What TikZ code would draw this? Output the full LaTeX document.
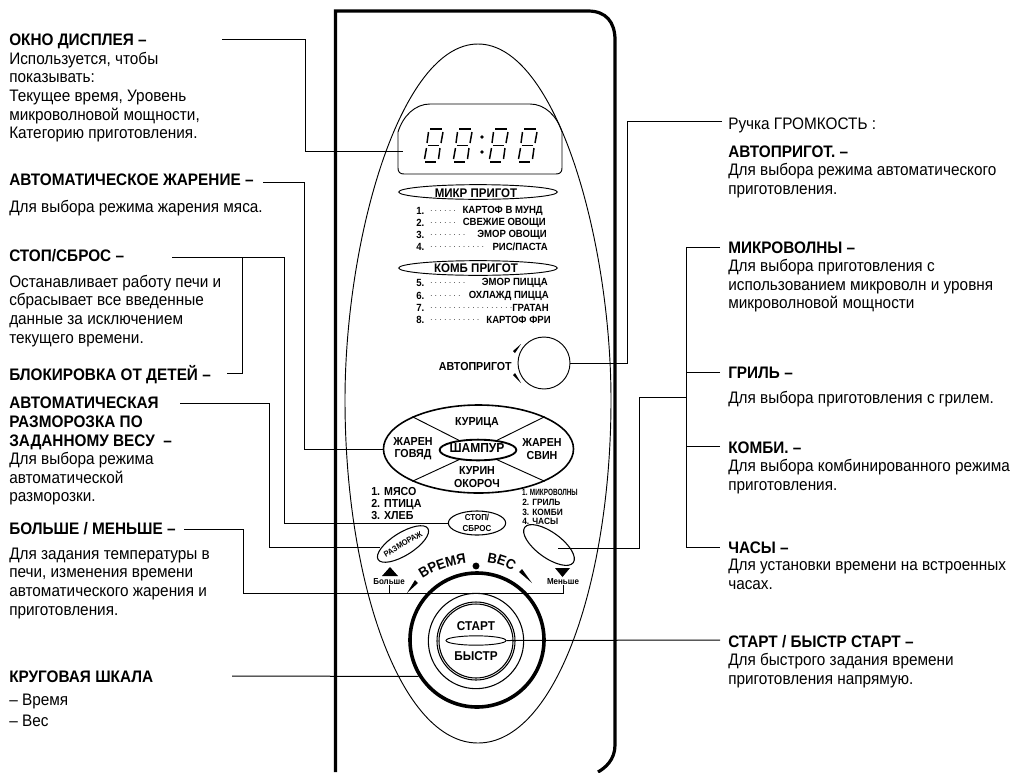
\documentclass[tikz,border=0pt]{standalone}
\usepackage{fontspec}
\setmainfont[FakeStretch=0.92]{Liberation Sans}
\usetikzlibrary{positioning,shapes.geometric,decorations.text}

\begin{document}
\begin{tikzpicture}[x=0.75pt, y=-0.75pt,
  textblk/.style={anchor=north west, inner sep=0pt, align=left,
    font=\fontsize{12.5}{13.95}\selectfont,
    execute at begin node=\strut, execute at end node=\strut},
  headtxt/.style={textblk, font=\fontsize{12.5}{13.95}\selectfont\bfseries},
  keytxt/.style={inner sep=0pt, align=center, font=\fontsize{#1}{#1}\selectfont\bfseries},
  keytxt/.default=8,
  oval/.style={ellipse, draw, inner sep=0pt},
  round/.style={circle, draw, inner sep=0pt},
  leader/.style={line width=0.75pt},
  seg/.style={line width=1.1pt},
  wedge/.style={fill=black, draw=none}]
  \useasboundingbox (0,0) rectangle (1011,772);

  % case and panel
  \draw[line width=2.4pt] (335.5,772) -- (335.5,11) -- (588,11) .. controls (606,11) and (615,22) .. (615,40) -- (615,745) .. controls (615,760) and (605,768) .. (598,772);
  \draw[line width=0.7pt] (478,44) .. controls (400,44) and (345,240) .. (345,400) .. controls (345,580) and (400,743) .. (478,743) .. controls (556,743) and (611,580) .. (611,400) .. controls (611,240) and (556,44) .. (478,44) -- cycle;

  % display
  \draw[line width=0.7pt] (398,132) .. controls (403,116) and (415,104) .. (430,104) -- (530,104) .. controls (545,104) and (557,116) .. (562,132) -- (562,168) .. controls (562,172) and (560,174) .. (556,174) -- (404,174) .. controls (400,174) and (398,172) .. (398,168) -- cycle;
  \foreach \dx in {423,452,488,517} {
    \begin{scope}[shift={(\dx,0)}]
      \draw[seg] (7,129) -- (19,129);
      \draw[seg] (5,145.5) -- (16,145.5);
      \draw[seg] (2,162) -- (13,162);
      \draw[seg] (5.5,132) -- (4,143);
      \draw[seg] (3.5,148) -- (1.5,159);
      \draw[seg] (20,132) -- (18,143);
      \draw[seg] (17,148) -- (15.5,159);
    \end{scope}
  }
  \fill (482,137) circle (1.4pt);
  \fill (482,152) circle (1.4pt);
  \coordinate (dispin) at (403,151);

  % menu lists
  \node (micoval) [oval, line width=0.7pt, minimum width=119pt, minimum height=11pt] at (478,192) {};
  \node (mictxt) [keytxt=9.4] at (476,193) {МИКР ПРИГОТ};
  \node (comoval) [oval, line width=0.7pt, minimum width=119pt, minimum height=11pt] at (478,268) {};
  \node (comtxt) [keytxt=9.4] at (476,268) {КОМБ ПРИГОТ};
  \foreach \rowy/\rownum/\rowdots/\rowx/\rowtxt in {
    211/1./{. . . . . .}/543/КАРТОФ В МУНД,
    223/2./{. . . . . .}/546/СВЕЖИЕ ОВОЩИ,
    235/3./{. . . . . . . .}/547/ЭМОР ОВОЩИ,
    247/4./{. . . . . . . . . . . .}/548/{РИС/ПАСТА},
    283/5./{. . . . . . . .}/548/ЭМОР ПИЦЦА,
    296/6./{. . . . . . .}/549/ОХЛАЖД ПИЦЦА,
    308/7./{. . . . . . . . . . . . . . . . . .}/549/ГРАТАН,
    320/8./{. . . . . . . . . . .}/551/КАРТОФ ФРИ} {
    \node (num\rowy) [keytxt=7.8, anchor=west] at (416,\rowy) {\rownum};
    \node (dot\rowy) [inner sep=0pt, anchor=west, font=\fontsize{5.9}{5.9}\selectfont] at (430,\rowy) {\rowdots};
    \node (row\rowy) [keytxt=7.8, anchor=east] at (\rowx,\rowy) {\rowtxt};
  }

  % auto cook knob
  \node (knob) [round, line width=0.7pt, minimum size=39pt] at (544,363) {};
  \node (knobtxt) [keytxt=8.7, anchor=east] at (512,366) {АВТОПРИГОТ};
  \fill[wedge] (513,351) -- (515,353) -- (521,344) -- cycle;
  \fill[wedge] (513,375) -- (515,373) -- (521,383) -- cycle;

  % meat keys
  \node (bigoval) [oval, line width=1.2pt, minimum width=142.5pt, minimum height=66pt] at (478.5,449) {};
  \node (shampur) [oval, line width=1.4pt, minimum width=57.5pt, minimum height=15.5pt] at (478,450) {};
  \node (shamptxt) [keytxt=9.8] at (477,448.5) {ШАМПУР};
  \node (chick) [keytxt=8.7] at (477,423) {КУРИЦА};
  \node (beef) [keytxt=8.7] at (413,449) {ЖАРЕН\\[0.5pt]ГОВЯД};
  \node (pork) [keytxt=8.7] at (542,449) {ЖАРЕН\\[0.5pt]СВИН};
  \node (legs) [keytxt=8.7] at (477,477) {КУРИН\\[0.5pt]ОКОРОЧ};
  \draw[line width=0.7pt] (bigoval.154) -- (shampur.153);
  \draw[line width=0.7pt] (bigoval.26) -- (shampur.27);
  \draw[line width=0.7pt] (bigoval.206) -- (shampur.207);
  \draw[line width=0.7pt] (bigoval.334) -- (shampur.333);

  % small keys
  \node (deflist) [keytxt=8.7, anchor=north west, align=left] at (371,487) {1. МЯСО\\[0.3pt]2. ПТИЦА\\[0.3pt]3. ХЛЕБ};
  \node (modea) [keytxt=6.8, anchor=west, xscale=0.77] at (522,492) {1. МИКРОВОЛНЫ};
  \node (modeb) [keytxt=6.8, anchor=west] at (522,502) {2. ГРИЛЬ};
  \node (modec) [keytxt=6.8, anchor=west] at (522,512) {3. КОМБИ};
  \node (moded) [keytxt=6.8, anchor=west] at (522,521) {4. ЧАСЫ};
  \node (stopoval) [oval, line width=0.8pt, minimum width=43pt, minimum height=18pt] at (477,523) {};
  \node (stoptxt) [keytxt=6.5] at (477,523) {СТОП/\\[1.7pt]СБРОС};
  \node (defoval) [oval, line width=0.8pt, minimum width=44pt, minimum height=17pt, rotate=32] at (403,544) {};
  \node (deftxt) [keytxt=6.1, rotate=30] at (403,544) {РАЗМОРАЖ};
  \node (modeoval) [oval, line width=0.8pt, minimum width=45pt, minimum height=19pt, rotate=-36] at (549,545) {};
  \fill[wedge] (382,576) -- (398,576) -- (390,567) -- cycle;
  \fill[wedge] (555,568) -- (570,568) -- (562.5,577) -- cycle;
  \node (moretxt) [keytxt=6.5] at (389,582) {Больше};
  \node (lesstxt) [keytxt=6.5] at (563,582) {Меньше};

  % dial
  \node (dial) [round, line width=2.7pt, minimum size=100.5pt] at (477,640) {};
  \node (dialin) [round, line width=0.8pt, minimum size=71.5pt] at (476,641) {};
  \node (startout) [round, line width=0.8pt, minimum size=58.5pt] at (476,641) {};
  \node (startin) [round, line width=0.8pt, minimum size=55.5pt] at (476,641) {};
  \node (fast) [oval, line width=0.7pt, minimum width=45pt, minimum height=7pt] at (476,640.5) {};
  \node (starttxt) [keytxt=9.6] at (476,626) {СТАРТ};
  \node (fasttxt) [keytxt=9.6] at (476,656) {БЫСТР};
  \fill (476,566) circle (2.6pt);
  \fill[wedge] (519,572) -- (522,569) -- (532,583) -- cycle;
  \fill[wedge] (415,580) -- (418,583) -- (407,593) -- cycle;
  \path[decorate, decoration={text along path, text align=center, text={|\fontsize{10.6}{10.6}\selectfont\bfseries|ВРЕМЯ}}] (422,579) .. controls (435,570) and (450,565) .. (467,563);
  \path[decorate, decoration={text along path, text align=center, text={|\fontsize{10.6}{10.6}\selectfont\bfseries|ВЕС}}] (485,562) .. controls (495,563) and (505,566) .. (514,572);

  % left column
  \node (window) [headtxt] at (9,32.7) {ОКНО ДИСПЛЕЯ –};
  \node (windowb) [textblk, below=0pt of window.south west, anchor=north west] {Используется, чтобы\\показывать:\\Текущее время, Уровень\\микроволновой мощности,\\Категорию приготовления.};
  \node (roast) [headtxt] at (9,172) {АВТОМАТИЧЕСКОЕ ЖАРЕНИЕ –};
  \node (roastb) [textblk, below=6pt of roast.south west, anchor=north west] {Для выбора режима жарения мяса.};
  \node (stopr) [headtxt] at (9,248.7) {СТОП/СБРОС –};
  \node (stoprb) [textblk, below=5.2pt of stopr.south west, anchor=north west] {Останавливает работу печи и\\сбрасывает все введенные\\данные за исключением\\текущего времени.};
  \node (lock) [headtxt] at (9,364.7) {БЛОКИРОВКА ОТ ДЕТЕЙ –};
  \node (defrost) [headtxt] at (9,397) {АВТОМАТИЧЕСКАЯ\\РАЗМОРОЗКА ПО\\ЗАДАННОМУ ВЕСУ~ –};
  \node (defrostb) [textblk, below=0pt of defrost.south west, anchor=north west] {Для выбора режима\\автоматической\\разморозки.};
  \node (moreless) [headtxt] at (9,521) {БОЛЬШЕ / МЕНЬШЕ –};
  \node (morelessb) [textblk, below=5.5pt of moreless.south west, anchor=north west] {Для задания температуры в\\печи, изменения времени\\автоматического жарения и\\приготовления.};
  \node (dialh) [headtxt] at (9,669) {КРУГОВАЯ ШКАЛА};
  \node (dialb) [textblk, below=4pt of dialh.south west, anchor=north west] {– Время\\[1.8pt]– Вес};

  % right column
  \node (volume) [textblk] at (728,116) {Ручка ГРОМКОСТЬ :};
  \node (autoc) [headtxt] at (728,144) {АВТОПРИГОТ. –};
  \node (autocb) [textblk, below=0pt of autoc.south west, anchor=north west] {Для выбора режима автоматического\\приготовления.};
  \node (micro) [headtxt] at (728,240) {МИКРОВОЛНЫ –};
  \node (microb) [textblk, below=0pt of micro.south west, anchor=north west] {Для выбора приготовления с\\использованием микроволн и уровня\\микроволновой мощности};
  \node (grill) [headtxt] at (728,365) {ГРИЛЬ –};
  \node (grillb) [textblk, below=4.8pt of grill.south west, anchor=north west] {Для выбора приготовления с грилем.};
  \node (combi) [headtxt] at (728,440) {КОМБИ. –};
  \node (combib) [textblk, below=0pt of combi.south west, anchor=north west] {Для выбора комбинированного режима\\приготовления.};
  \node (clock) [headtxt] at (728,540) {ЧАСЫ –};
  \node (clockb) [textblk, below=0pt of clock.south west, anchor=north west] {Для установки времени на встроенных\\часах.};
  \node (start) [headtxt] at (728,634) {СТАРТ / БЫСТР СТАРТ –};
  \node (startb) [textblk, below=0pt of start.south west, anchor=north west] {Для быстрого задания времени\\приготовления напрямую.};

  % leaders
  \coordinate (windowl) at (222,39);
  \coordinate (roastl) at (263,182);
  \coordinate (stoprl) at (172,257);
  \coordinate (stopjoin) at (242,257);
  \coordinate (lockl) at (227,373);
  \coordinate (defrostl) at (180,403);
  \coordinate (defend) at (380,547);
  \coordinate (morel) at (184,529);
  \coordinate (lessbend) at (563,593);
  \coordinate (morejoin) at (389,593);
  \coordinate (dialhl) at (232,676);
  \coordinate (volumel) at (722,121);
  \coordinate (microl) at (720,247);
  \coordinate (grilll) at (720,372);
  \coordinate (combil) at (720,446);
  \coordinate (clockl) at (720,547);
  \coordinate (startl) at (720,640);
  \coordinate (modejoin) at (686,397);
  \coordinate (modeend) at (558,548);

  \draw[leader] (windowl) -- ++(83,0) |- (dispin);
  \draw[leader] (roastl) -- ++(41,0) |- (bigoval.west);
  \draw[leader] (stoprl) -- ++(112,0) |- (stopoval.west);
  \draw[leader] (lockl) -| (stopjoin);
  \draw[leader] (defrostl) -- ++(89,0) |- (defend);
  \draw[leader] (morel) -- ++(59,0) |- (lessbend) -- (lesstxt.south);
  \draw[leader] (morejoin) -- (moretxt.south);
  \draw[leader] (dialhl) -- (dial.212.5);
  \draw[leader] (volumel) -- ++(-95,0) |- (knob.east);
  \draw[leader] (microl) -- ++(-34,0) |- (clockl);
  \draw[leader] (grilll) -- ++(-34,0);
  \draw[leader] (combil) -- ++(-34,0);
  \draw[leader] (modejoin) -- ++(-47,0) |- (modeend);
  \draw[leader] (startl) -- (fast.east);
\end{tikzpicture}
\end{document}
